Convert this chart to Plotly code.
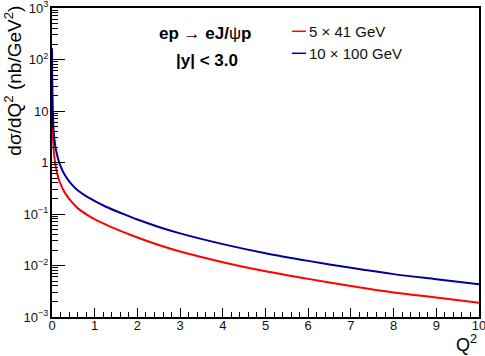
import plotly.graph_objects as go

# Q^2 (GeV^2) sample points and cross sections (nb/GeV^2)
q2 = [0.0, 0.002, 0.005, 0.01, 0.02, 0.03, 0.04, 0.07, 0.1, 0.15, 0.2, 0.3, 0.45, 0.6,
      0.9, 1.25, 1.75, 2.0, 2.5, 3.0, 4.0, 5.0, 6.0, 7.0, 8.0, 9.0, 10.0]
xs_5x41 = [70, 34, 17, 8.5, 4.0, 2.5, 1.75, 1.02, 0.73, 0.50, 0.38, 0.26, 0.175, 0.130,
           0.088, 0.063, 0.042, 0.035, 0.025, 0.0187, 0.0116, 0.0077, 0.0055, 0.0040,
           0.0030, 0.0024, 0.0019]
xs_10x100 = [165, 80, 40, 20, 9.0, 5.5, 3.9, 2.3, 1.65, 1.12, 0.85, 0.57, 0.385, 0.29,
             0.198, 0.14, 0.094, 0.078, 0.056, 0.042, 0.026, 0.0173, 0.0123, 0.0090,
             0.0068, 0.0054, 0.0043]

names = ["5 × 41 GeV", "10 × 100 GeV"]
colors = ["#ff0000", "#000099"]

ytick_vals = [1e-3, 1e-2, 1e-1, 1, 10, 100, 1000]
ytick_text = ["10<sup>−3</sup>", "10<sup>−2</sup>", "10<sup>−1</sup>", "1", "10",
              "10<sup>2</sup>", "10<sup>3</sup>"]
xtick_vals = list(range(0, 11))

yminor = [m * 10 ** e for e in range(-3, 3) for m in range(2, 10)]

FONT = "Liberation Sans, Arial, sans-serif"

fig = go.Figure()
for ys, nm, col in zip([xs_5x41, xs_10x100], names, colors):
    fig.add_trace(go.Scatter(x=q2, y=ys, mode="lines", name=nm,
                             line=dict(color=col, width=2, shape="spline", smoothing=0.8)))

fig.update_layout(
    width=485, height=356,
    margin=dict(l=52, r=6, t=8, b=39),
    paper_bgcolor="white", plot_bgcolor="white",
    showlegend=False,
    font=dict(family=FONT, color="#111111", size=13),
)
fig.update_xaxes(
    range=[0, 10], tickmode="array", tickvals=xtick_vals,
    ticks="inside", ticklen=9, tickwidth=1.3, tickcolor="black",
    minor=dict(dtick=0.2, ticks="inside", ticklen=5, tickwidth=1.2, tickcolor="black"),
    showline=True, linecolor="black", linewidth=2, mirror=True,
    showgrid=False, zeroline=False, automargin=False, ticklabeloverflow="allow",
    ticklabelstandoff=-5,
    tickfont=dict(size=13, family=FONT),
)
fig.update_yaxes(
    type="log", range=[-3, 3], tickmode="array", tickvals=ytick_vals, ticktext=ytick_text,
    ticks="inside", ticklen=13, tickwidth=1.3, tickcolor="black",
    minor=dict(tickmode="array", tickvals=yminor, ticks="inside", ticklen=6,
               tickwidth=1.2, tickcolor="black"),
    showline=True, linecolor="black", linewidth=2, mirror=True,
    showgrid=False, zeroline=False, automargin=False, ticklabeloverflow="allow",
    ticklabelstandoff=-1,
    tickfont=dict(size=13, family=FONT),
)

# axis titles
fig.add_annotation(text="dσ/dQ<sup>2</sup> (nb/GeV<sup>2</sup>)", textangle=-90,
                   xref="paper", yref="paper", x=(13 - 52) / 427, y=1.014,
                   xanchor="center", yanchor="top", showarrow=False,
                   font=dict(size=19, family=FONT, color="black"))
fig.add_annotation(text="Q<sup>2</sup>", xref="paper", yref="paper", x=1.0, y=-0.085,
                   xanchor="right", yanchor="middle", showarrow=False,
                   font=dict(size=18, family=FONT, color="black"))

# process text
fig.add_annotation(text="<b>ep </b>→<b> eJ/</b>ψ<b>p</b>", xref="paper", yref="paper",
                   x=(205 - 52) / 427, y=(316.7 - 33) / 309, xanchor="center",
                   yanchor="middle", showarrow=False,
                   font=dict(size=17, family=FONT, color="black"))
fig.add_annotation(text="<b>|y| < 3.0</b>", xref="paper", yref="paper",
                   x=(207 - 52) / 427, y=(316.7 - 60) / 309, xanchor="center",
                   yanchor="middle", showarrow=False,
                   font=dict(size=17, family=FONT, color="black"))

# legend entries (coloured line key + label)
leg_y = [(316.7 - 31) / 309, (316.7 - 53) / 309]
for nm, col, yy in zip(names, colors, leg_y):
    fig.add_shape(type="line", xref="paper", yref="paper",
                  x0=(292 - 52) / 427, x1=(306 - 52) / 427, y0=yy, y1=yy,
                  line=dict(color=col, width=1.5))
    fig.add_annotation(text=nm, xref="paper", yref="paper", x=(307 - 52) / 427, y=yy,
                       xanchor="left", yanchor="middle", showarrow=False,
                       font=dict(size=15, family=FONT, color="#111111"))

fig.write_html("out.html", config={"displayModeBar": False},
               post_script="document.body.style.margin='0';")
